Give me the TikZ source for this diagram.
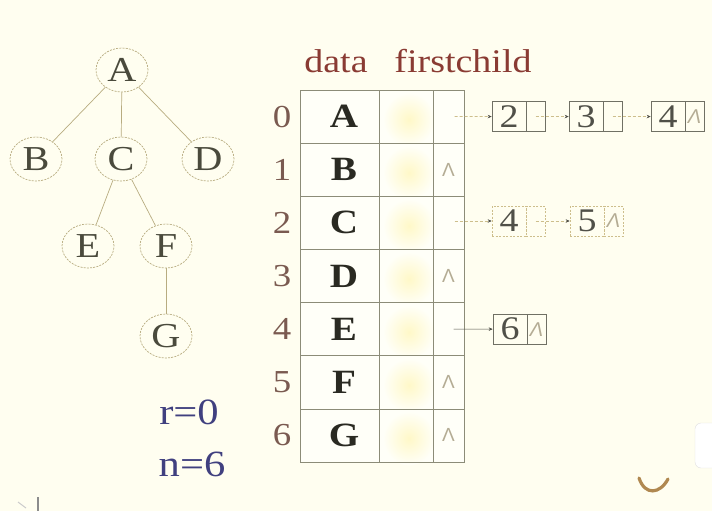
\documentclass[tikz,border=0pt]{standalone}
\usepackage{fontspec}
\setmainfont[FakeStretch=1.15]{Liberation Serif}
\newfontfamily\lamfont{Liberation Sans}
\usetikzlibrary{shapes.geometric,arrows.meta}
\definecolor{bg}{HTML}{FFFEF0}
\definecolor{cellbg}{HTML}{FFFFF8}
\definecolor{treeline}{HTML}{B8AC80}
\definecolor{treetext}{HTML}{4A4A3C}
\definecolor{tableline}{HTML}{8C8C78}
\definecolor{headcol}{HTML}{8A3B33}
\definecolor{indexcol}{HTML}{7A5A50}
\definecolor{boldcol}{HTML}{2A2A22}
\definecolor{lamcol}{HTML}{B4AC94}
\definecolor{boxline}{HTML}{707064}
\definecolor{boxtext}{HTML}{505048}
\definecolor{linkcol}{HTML}{CDBE8C}
\definecolor{arrowdark}{HTML}{505048}
\definecolor{rncol}{HTML}{40407F}
\definecolor{glow}{HTML}{FFF8C8}
\definecolor{logo}{HTML}{B08850}
\newcommand\fsz[1]{\fontsize{#1}{#1}\selectfont}
\tikzset{
  treenode/.style={ellipse, draw=treeline, dash pattern=on 2pt off 1.2pt, line width=0.7pt,
    minimum width=52pt, minimum height=44pt, inner sep=0pt, text=treetext, font=\fsz{35}},
  treeedge/.style={draw=treeline, line width=0.7pt},
  cellstyle/.style={rectangle, draw=tableline, line width=0.6pt, minimum height=53.14pt, inner sep=0pt},
  datacell/.style={cellstyle, minimum width=79pt, font=\fsz{34}\bfseries, text=boldcol},
  glowcell/.style={cellstyle, minimum width=54pt},
  ptrcell/.style={cellstyle, minimum width=31pt, font=\lamfont\fsz{19}, text=lamcol},
  idx/.style={font=\fsz{32}, text=indexcol, inner sep=0pt},
  head/.style={font=\fsz{33}, text=headcol, inner sep=0pt, anchor=base},
  valbox/.style={rectangle, draw=boxline, line width=0.6pt, minimum width=34pt, minimum height=30pt,
    inner sep=0pt, font=\fsz{33}, text=boxtext},
  ptrbox/.style={rectangle, draw=boxline, line width=0.6pt, minimum width=19pt, minimum height=30pt,
    inner sep=0pt, font=\lamfont\itshape\fsz{20}, text=lamcol},
  dashbox/.style={draw=linkcol, dash pattern=on 2pt off 1.5pt},
  link/.style={draw=linkcol, dash pattern=on 3pt off 2pt, line width=0.8pt,
    -{Stealth[length=4pt,width=3.5pt,color=arrowdark]}},
  solidlink/.style={draw=arrowdark, line width=0.7pt, -{Stealth[length=4pt,width=3.5pt]}},
  rn/.style={font=\fsz{37}, text=rncol, inner sep=0pt}
}
\begin{document}
\begin{tikzpicture}[x=1pt,y=-1pt]
\useasboundingbox (0,0) rectangle (712,511);
\fill[bg] (0,0) rectangle (712,511);

% tree
\node[treenode] (tA) at (122,70) {A};
\node[treenode] (tB) at (36,159) {B};
\node[treenode] (tC) at (121,159) {C};
\node[treenode] (tD) at (208,159) {D};
\node[treenode] (tE) at (88,246) {E};
\node[treenode] (tF) at (166,246) {F};
\node[treenode] (tG) at (166,336) {G};
\draw[treeedge] (tA) -- (tB);
\draw[treeedge] (tA) -- (tC);
\draw[treeedge] (tA) -- (tD);
\draw[treeedge] (tC) -- (tE);
\draw[treeedge] (tC) -- (tF);
\draw[treeedge] (tF) -- (tG);

% header
\node[head] (hdata) at (336,73) {data};
\node[head] (hfirst) at (463,73) {firstchild};

% table
\foreach \i/\L/\lam in {0/A/,1/B/Λ,2/C/,3/D/Λ,4/E/,5/F/Λ,6/G/Λ}{
  \pgfmathsetmacro{\yc}{90+53.14*(\i+0.5)}
  \fill[cellbg] (300,\yc-26.57) rectangle (464,\yc+26.57);
  \shade[inner color=glow, outer color=cellbg] (409,\yc+3) ellipse (26pt and 27pt);
  \node[idx] (i\i) at (282,\yc) {\i};
  \node[datacell] (d\i) at (339.5,\yc) {\hspace{9pt}\L};
  \node[glowcell] (g\i) at (406,\yc) {};
  \node[ptrcell] (p\i) at (448.5,\yc) {\lam};
}

% lists
\node[valbox] (l0a) at (509,116.57) {2};
\node[ptrbox] (l0ap) at (535.5,116.57) {};
\node[valbox] (l0b) at (586,116.57) {3};
\node[ptrbox] (l0bp) at (612.5,116.57) {};
\node[valbox] (l0c) at (668,116.57) {4};
\node[ptrbox] (l0cp) at (694.5,116.57) {Λ};
\draw[link, shorten <=6pt] (p0.center) -- (l0a.west);
\draw[link] (l0ap.center) -- (l0b.west);
\draw[link] (l0bp.center) -- (l0c.west);

\node[valbox, dashbox] (l2a) at (509,221) {4};
\node[ptrbox, dashbox] (l2ap) at (535.5,221) {};
\node[valbox, dashbox] (l2b) at (587,221) {5};
\node[ptrbox, dashbox] (l2bp) at (613.5,221) {Λ};
\draw[link] ([xshift=6pt]p2.center |- l2a.west) -- (l2a.west);
\draw[link] (l2ap.center) -- (l2b.west);

\node[valbox] (l4a) at (510,329.13) {6};
\node[ptrbox] (l4ap) at (536.5,329.13) {Λ};
\draw[solidlink, shorten <=5pt] (p4.center) -- (l4a.west);

% r and n
\node[rn] (rr) at (189,412) {r=0};
\node[rn] (nn) at (192,464) {n=6};

% artifacts
\draw[logo, line width=3.2pt, line cap=round] (639,478) .. controls (645,496) and (660,494) .. (668,479);
\draw[draw=black!12, fill=white, rounded corners=6pt] (695,423) rectangle (722,468);
\draw[black!45, line width=1.2pt] (38,497) -- (38,511);
\draw[black!20, line width=1pt] (18,502) -- (26,508);
\end{tikzpicture}
\end{document}
